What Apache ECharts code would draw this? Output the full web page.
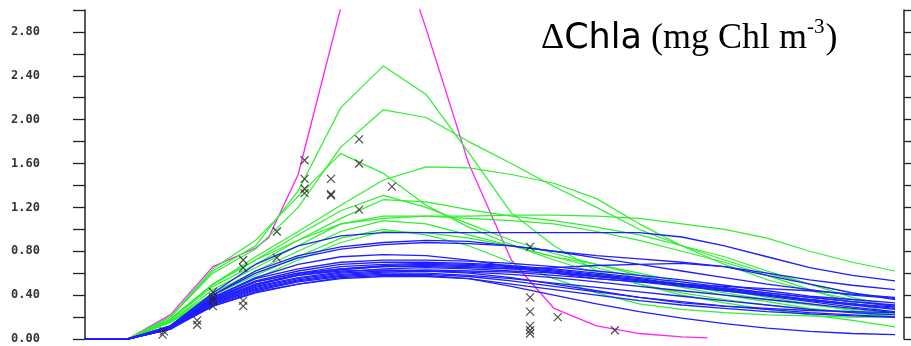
<!DOCTYPE html>
<html>
<head>
<meta charset="utf-8">
<script src="https://cdn.jsdelivr.net/npm/echarts@6/dist/echarts.min.js"></script>
<style>
  html, body { margin: 0; padding: 0; background: #fff; }
  #chart { width: 911px; height: 346px; }
</style>
</head>
<body>
<div id="chart"></div>
<script>
// Model days (one vertex per day)
const days = [0,1,2,3,4,5,6,7,8,9,10,11,12,13,14,15,16,17,18,19];

// Y axis ticks every 0.2, labels every 0.4
const yMin = 0, yMax = 3.0, yStep = 0.2;

// Green runs
const green1 = [0,0,0.20,0.62,0.85,1.35,2.11,2.49,2.23,1.70,1.15,0.85,0.62,0.50,0.40,0.33,0.27,0.22,0.17,0.11];
const green2 = [0,0,0.20,0.60,0.82,1.20,1.75,2.09,2.02,1.80,1.60,1.39,1.20,1.00,0.85,0.72,0.60,0.50,0.42,0.37];
const green3 = [0,0,0.20,0.64,0.90,1.30,1.69,1.51,1.22,1.02,0.86,0.72,0.60,0.50,0.42,0.36,0.31,0.27,0.25,0.23];
const green4 = [0,0,0.18,0.50,0.75,0.98,1.22,1.45,1.57,1.56,1.50,1.42,1.28,1.05,0.85,0.68,0.54,0.44,0.36,0.29];
const green5 = [0,0,0.18,0.50,0.72,0.90,1.05,1.10,1.12,1.12,1.13,1.13,1.12,1.10,1.05,1.00,0.92,0.80,0.70,0.62];
const green6 = [0,0,0.18,0.50,0.72,0.95,1.17,1.31,1.20,1.05,0.90,0.78,0.68,0.60,0.52,0.45,0.38,0.32,0.26,0.20];
const green7 = [0,0,0.17,0.48,0.68,0.90,1.10,1.27,1.25,1.18,1.12,1.08,1.02,0.95,0.85,0.75,0.62,0.50,0.38,0.29];
const green8 = [0,0,0.16,0.45,0.65,0.85,1.05,1.12,1.12,1.10,1.08,1.05,0.98,0.90,0.80,0.70,0.58,0.45,0.33,0.23];
const green9 = [0,0,0.16,0.42,0.62,0.80,0.98,1.08,1.05,0.95,0.85,0.75,0.68,0.58,0.50,0.42,0.36,0.31,0.27,0.24];
const green10 = [0,0,0.15,0.40,0.58,0.75,0.92,1.00,0.95,0.85,0.70,0.55,0.42,0.32,0.27,0.24,0.22,0.21,0.20,0.20];
const green11 = [0,0,0.15,0.38,0.55,0.72,0.88,0.98,0.97,0.92,0.85,0.75,0.65,0.55,0.47,0.40,0.34,0.28,0.24,0.20];

// Blue runs
const blue1 = [0,0,0.12,0.42,0.68,0.85,0.94,0.97,0.97,0.97,0.97,0.97,0.97,0.97,0.93,0.85,0.75,0.65,0.58,0.53];
const blue2 = [0,0,0.12,0.40,0.62,0.76,0.84,0.88,0.90,0.89,0.85,0.80,0.76,0.73,0.70,0.66,0.60,0.54,0.49,0.45];
const blue3 = [0,0,0.12,0.40,0.60,0.74,0.82,0.86,0.88,0.87,0.85,0.80,0.74,0.68,0.62,0.56,0.50,0.45,0.40,0.37];
const blue4 = [0,0,0.11,0.36,0.52,0.60,0.64,0.66,0.66,0.65,0.64,0.65,0.67,0.68,0.69,0.66,0.58,0.50,0.42,0.36];
const blue5 = [0,0,0.11,0.38,0.55,0.64,0.70,0.72,0.72,0.71,0.69,0.66,0.62,0.58,0.54,0.49,0.44,0.39,0.36,0.33];
const blue6 = [0,0,0.11,0.37,0.53,0.62,0.68,0.70,0.70,0.69,0.67,0.64,0.60,0.56,0.52,0.47,0.42,0.38,0.34,0.31];
const blue7 = [0,0,0.10,0.36,0.52,0.60,0.66,0.68,0.69,0.68,0.66,0.63,0.59,0.55,0.50,0.46,0.41,0.36,0.32,0.29];
const blue8 = [0,0,0.10,0.35,0.50,0.59,0.64,0.67,0.68,0.67,0.65,0.62,0.58,0.54,0.50,0.45,0.40,0.35,0.31,0.27];
const blue9 = [0,0,0.10,0.34,0.49,0.58,0.63,0.66,0.67,0.66,0.64,0.61,0.57,0.53,0.49,0.44,0.39,0.34,0.29,0.25];
const blue10 = [0,0,0.10,0.34,0.48,0.56,0.61,0.64,0.65,0.64,0.62,0.60,0.57,0.54,0.50,0.46,0.42,0.38,0.34,0.30];
const blue11 = [0,0,0.10,0.33,0.47,0.55,0.60,0.62,0.63,0.62,0.61,0.58,0.55,0.52,0.48,0.44,0.40,0.36,0.32,0.28];
const blue12 = [0,0,0.09,0.32,0.46,0.54,0.59,0.61,0.62,0.61,0.59,0.56,0.52,0.48,0.44,0.40,0.36,0.32,0.28,0.24];
const blue13 = [0,0,0.09,0.32,0.45,0.53,0.58,0.60,0.60,0.58,0.55,0.51,0.47,0.43,0.39,0.35,0.31,0.27,0.24,0.22];
const blue14 = [0,0,0.09,0.31,0.44,0.52,0.57,0.59,0.59,0.57,0.53,0.48,0.43,0.38,0.34,0.30,0.27,0.24,0.22,0.20];
const blue15 = [0,0,0.09,0.30,0.43,0.50,0.55,0.57,0.57,0.55,0.50,0.45,0.40,0.35,0.31,0.28,0.25,0.23,0.21,0.20];
const blue16 = [0,0,0.10,0.30,0.42,0.50,0.56,0.58,0.58,0.55,0.48,0.40,0.32,0.25,0.19,0.14,0.10,0.07,0.05,0.04];
const blue17 = [0,0,0.10,0.35,0.50,0.58,0.62,0.63,0.62,0.60,0.56,0.50,0.44,0.38,0.33,0.30,0.28,0.26,0.25,0.24];
const blue18 = [0,0,0.11,0.38,0.56,0.68,0.75,0.77,0.76,0.72,0.66,0.60,0.55,0.52,0.50,0.48,0.46,0.44,0.41,0.38];

// Magenta run
const magentaDays = [0,1,2,3,4,4.3,5,6,7,8,9,10,11,12,13,14,14.6];
const magentaValues = [0,0,0.22,0.66,0.83,0.92,1.50,3.02,4.00,2.83,1.60,0.72,0.28,0.12,0.05,0.02,0.01];

// Observations (day, value)
const obsDays = [1.82,1.85,2.63,2.63,3.0,3.0,3.0,3.0,3.71,3.71,3.71,3.71,4.5,4.5,5.15,5.15,5.15,5.15,5.77,5.77,5.77,6.43,6.43,6.43,7.2,10.44,10.44,10.44,10.44,10.44,10.44,11.09,12.43];
const obsValues = [0.04,0.07,0.13,0.17,0.43,0.38,0.35,0.30,0.72,0.65,0.35,0.30,0.98,0.74,1.63,1.46,1.37,1.33,1.46,1.32,1.31,1.82,1.60,1.18,1.39,0.84,0.38,0.25,0.12,0.08,0.05,0.20,0.08];

const greens = [green1,green2,green3,green4,green5,green6,green7,green8,green9,green10,green11];
const blues = [blue1,blue2,blue3,blue4,blue5,blue6,blue7,blue8,blue9,blue10,blue11,blue12,blue13,blue14,blue15,blue16,blue17,blue18];

function pairs(xs, ys) { return ys.map((v, i) => [xs[i], v]); }

function lineSeries(values, xs, color, width) {
  return {
    type: 'line',
    data: pairs(xs, values),
    symbol: 'none',
    silent: true,
    clip: true,
    lineStyle: { color: color, width: width },
    animation: false
  };
}

const series = [];
series.push(lineSeries(magentaValues, magentaDays, '#ff22ff', 1.3));
greens.forEach(g => series.push(lineSeries(g, days, '#2ef02e', 1.2)));
blues.forEach(b => series.push(lineSeries(b, days, '#1e1eff', 1.3)));
series.push({
  type: 'scatter',
  data: pairs(obsDays, obsValues),
  symbol: 'path://M0,0L10,10M10,0L0,10',
  symbolSize: 8,
  itemStyle: { color: 'rgba(0,0,0,0)', borderColor: '#222', borderWidth: 1.2 },
  silent: true,
  animation: false,
  z: 5
});

const tickLabel = v => {
  const k = Math.round(v / yStep);
  if (k % 2 !== 0 || v > 2.9) return '';
  return v.toFixed(2);
};

const chart = echarts.init(document.getElementById('chart'), null, { renderer: 'canvas' });
chart.setOption({
  backgroundColor: '#ffffff',
  animation: false,
  grid: { left: 85, right: 16, top: 10, bottom: 7 },
  xAxis: {
    type: 'value', min: 0, max: 19, show: false
  },
  yAxis: [
    {
      type: 'value', min: yMin, max: yMax, interval: yStep, position: 'left', offset: 23,
      axisLine: { show: true, lineStyle: { color: '#222', width: 1.5 } },
      axisTick: { show: true, inside: false, length: 12, lineStyle: { color: '#222', width: 1.3 } },
      axisLabel: {
        show: true, margin: 22, formatter: tickLabel,
        fontFamily: 'DejaVu Sans Mono', fontSize: 12, fontWeight: 'bold', color: '#333'
      },
      splitLine: { show: false }
    },
    {
      type: 'value', min: yMin, max: yMax, interval: yStep, position: 'right', offset: 9,
      axisLine: { show: true, lineStyle: { color: '#222', width: 1.5 } },
      axisTick: { show: true, inside: false, length: 12, lineStyle: { color: '#222', width: 1.3 } },
      axisLabel: { show: false },
      splitLine: { show: false }
    }
  ],
  graphic: [
    {
      type: 'text', left: 541, top: 17, z: 10,
      style: {
        text: '{d|Δ}{c|Chla}{s| (mg Chl m}{p|-3}{s|)}',
        rich: {
          d: { fontFamily: 'Liberation Serif', fontSize: 36, fill: '#000', lineHeight: 44 },
          c: { fontFamily: 'DejaVu Sans', fontSize: 35, fill: '#000', lineHeight: 44 },
          s: { fontFamily: 'Liberation Serif', fontSize: 36, fill: '#000', lineHeight: 44 },
          p: { fontFamily: 'Liberation Serif', fontSize: 21, fill: '#000', lineHeight: 44, verticalAlign: 'top', padding: [0, 1, 18, 0] }
        }
      }
    }
  ],
  series: series
});
</script>
</body>
</html>
